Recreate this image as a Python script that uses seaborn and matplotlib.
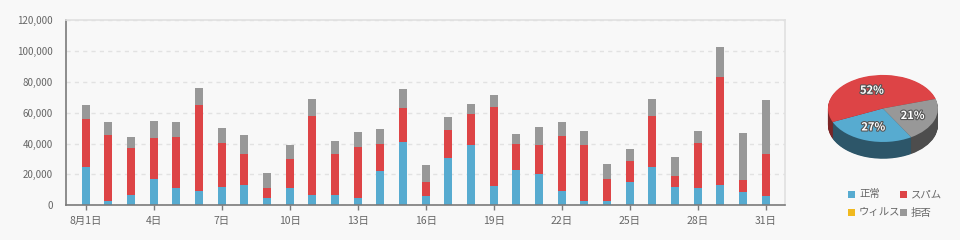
import numpy as np
import pandas as pd
import matplotlib
matplotlib.use("Agg")
import matplotlib.pyplot as plt
import matplotlib.patheffects as pe
from matplotlib.patches import Rectangle
from matplotlib.ticker import FuncFormatter
import seaborn as sns

# ---------------- data ----------------
days = list(range(1, 32))
normal = [24900, 2800, 6700, 17100, 11200, 9300, 11900, 13200, 4800, 11200,
          6700, 6700, 4800, 22300, 41100, 6100, 30700, 39100, 12500, 22900,
          20300, 9300, 2800, 2800, 15100, 24900, 11900, 11200, 13200, 8600, 6100]
spam = [31100, 42800, 30500, 26600, 33100, 55800, 28500, 20100, 6400, 18900,
        51200, 26600, 33000, 17500, 22000, 9000, 18200, 20100, 51300, 16900,
        18800, 35700, 36300, 14300, 13700, 33000, 7100, 29200, 70000, 7800, 27200]
virus = [0] * 31
reject = [9100, 8500, 7100, 11000, 9800, 11000, 9800, 12300, 9800, 9000,
          11100, 8400, 9800, 9700, 12400, 11100, 8400, 6500, 7800, 6500,
          11700, 9100, 9100, 9700, 7700, 11100, 12300, 7800, 19500, 30500, 35000]
series_labels = ["正常", "スパム", "ウィルス", "拒否"]
pie_share = [27, 52, 0, 21]
x_tick_days = [1, 4, 7, 10, 13, 16, 19, 22, 25, 28, 31]
x_tick_labels = ["8月1日", "4日", "7日", "10日", "13日", "16日", "19日",
                 "22日", "25日", "28日", "31日"]

colors = ["#57abd0", "#dd4446", "#f0b91f", "#989898"]
side_colors = ["#2d5669", "#7c2526", "#8a6a10", "#4d4d4d"]
bg = "#f8f8f8"

# ---------------- style ----------------
sns.set_theme(style="white")
plt.rcParams["font.family"] = ["Noto Sans CJK JP", "DejaVu Sans"]

fig = plt.figure(figsize=(9.6, 2.4), dpi=100, facecolor=bg)
ax = fig.add_axes([0.0684, 0.1446, 0.7496, 0.7708])
ax.set_facecolor(bg)

df = pd.DataFrame({"day": [str(d) for d in days], "normal": normal,
                   "spam": spam, "virus": virus, "reject": reject})
df["c1"] = df["normal"]
df["c2"] = df["c1"] + df["spam"]
df["c3"] = df["c2"] + df["virus"]
df["c4"] = df["c3"] + df["reject"]

for col, color in [("c4", colors[3]), ("c3", colors[2]),
                   ("c2", colors[1]), ("c1", colors[0])]:
    sns.barplot(data=df, x="day", y=col, order=list(df["day"]), color=color,
                saturation=1, width=0.35, linewidth=0, ax=ax, errorbar=None)

ax.set_xlim(-0.88, 30.87)
ax.set_ylim(0, 120000)
ax.set_yticks(range(0, 120001, 20000))
ax.yaxis.set_major_formatter(FuncFormatter(lambda v, p: f"{int(v):,}"))
ax.set_xticks([d - 1 for d in x_tick_days])
ax.set_xticklabels(x_tick_labels)
ax.set_xlabel("")
ax.set_ylabel("")
ax.set_axisbelow(True)
ax.yaxis.grid(True, color="#e2e2e2", linestyle=(0, (3, 3)), linewidth=1)
ax.xaxis.grid(False)

for s in ["left", "bottom"]:
    ax.spines[s].set_color("#7a7a7a")
    ax.spines[s].set_linewidth(1.2)
for s in ["top", "right"]:
    ax.spines[s].set_color("#e0e0e0")
    ax.spines[s].set_linewidth(1.2)

ax.tick_params(axis="y", length=0, pad=9, labelsize=7, labelcolor="#666666")
ax.tick_params(axis="x", length=3.5, width=1, color="#7a7a7a", pad=4,
               labelsize=7.5, labelcolor="#666666", bottom=True)

# ---------------- 3D-looking pie ----------------
pax = fig.add_axes([0.851, 0.2967, 0.1375, 0.419])
pax.set_facecolor(bg)
depth = 0.5
for off in np.linspace(-depth, -0.02, 30):
    pax.pie(pie_share, colors=side_colors, startangle=-59, counterclock=False,
            center=(0, off), radius=1, wedgeprops=dict(linewidth=0))

def fmt_pct(p):
    return f"{p:.0f}%" if p > 0.5 else ""

wedges, texts, autotexts = pax.pie(
    pie_share, colors=colors, startangle=-59, counterclock=False,
    center=(0, 0), radius=1, autopct=fmt_pct, pctdistance=0.58,
    wedgeprops=dict(linewidth=0),
    textprops=dict(color="white", fontsize=8, fontweight="bold"))
for t in autotexts:
    t.set_path_effects([pe.withStroke(linewidth=1.6, foreground="#555555")])

pax.set_aspect("auto")
pax.set_xlim(-1.2, 1.2)
pax.set_ylim(-1.8, 1.2)
pax.axis("off")

# ---------------- legend ----------------
leg_pos = [(848, 191), (900, 191), (848, 209), (900, 209)]
for (px, py), lab, col in zip(leg_pos, series_labels, colors):
    fig.add_artist(Rectangle((px / 960, 1 - (py + 7) / 240), 7 / 960, 7 / 240,
                             transform=fig.transFigure, facecolor=col,
                             edgecolor="none"))
    fig.text((px + 11) / 960, 1 - (py + 3.5) / 240, lab, fontsize=7.5,
             color="#666666", va="center", ha="left")

fig.savefig("out.png", dpi=100, facecolor=bg)
